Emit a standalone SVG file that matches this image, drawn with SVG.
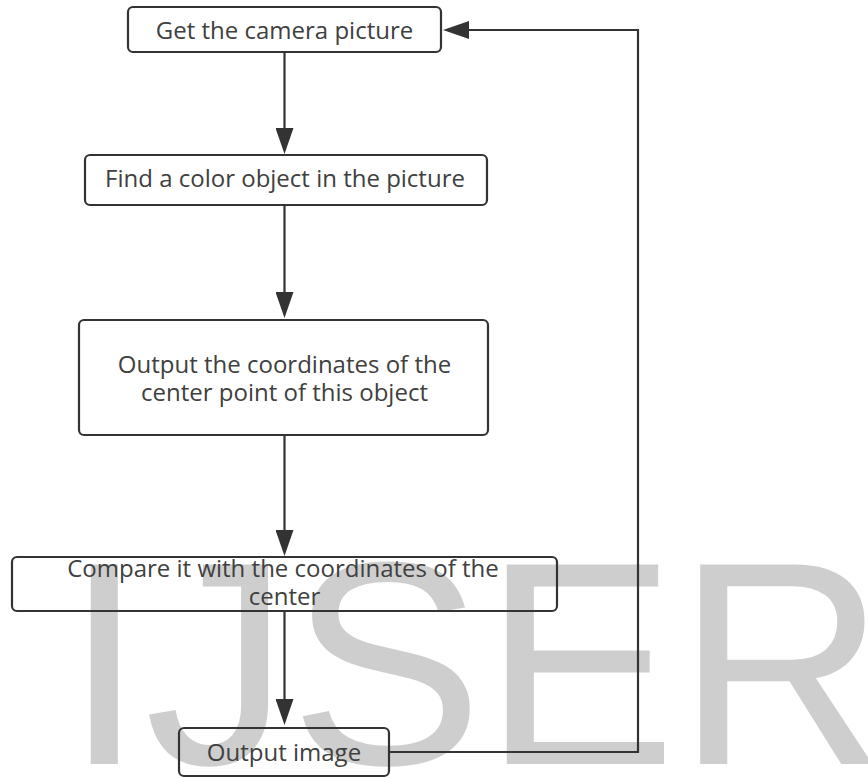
<svg xmlns="http://www.w3.org/2000/svg" width="868" height="778" viewBox="0 0 868 778">
<style>
.box{fill:none;stroke:#333;stroke-width:2.2}
.lbl{font-family:"Open Sans","Noto Sans",sans-serif;font-size:24px;fill:#404040;text-anchor:middle}
.con{fill:none;stroke:#333;stroke-width:2.2}
.wm{font-family:"Liberation Sans",Arial,sans-serif;font-size:290px;fill:#cecece}
</style>
<defs>
<marker id="arr" markerUnits="userSpaceOnUse" markerWidth="26" markerHeight="18" refX="20" refY="9" orient="auto">
<path d="M0,0 L26,9 L0,18 Z" fill="#333"/>
</marker>
</defs>
<rect width="868" height="778" fill="#fff"/>
<text class="wm" x="64" y="764">IJSER</text>
<g id="connectors">
<path class="con" d="M284.5,53 V148" marker-end="url(#arr)"/>
<path class="con" d="M284.5,205 V312" marker-end="url(#arr)"/>
<path class="con" d="M284.5,435 V550" marker-end="url(#arr)"/>
<path class="con" d="M284.5,611 V719" marker-end="url(#arr)"/>
<path class="con" d="M389,752 H638 V30 H449" marker-end="url(#arr)"/>
</g>
<g id="n1">
<rect class="box" x="128" y="7" width="313" height="45" rx="5"/>
<text class="lbl" x="284.5" y="39">Get the camera picture</text>
</g>
<g id="n2">
<rect class="box" x="85" y="155" width="402" height="50" rx="5"/>
<text class="lbl" x="285" y="187">Find a color object in the picture</text>
</g>
<g id="n3">
<rect class="box" x="79" y="320" width="409" height="115" rx="5"/>
<text class="lbl" x="284.5" y="373">Output the coordinates of the</text>
<text class="lbl" x="284.5" y="401">center point of this object</text>
</g>
<g id="n4">
<rect class="box" x="12" y="557" width="545" height="54" rx="5"/>
<text class="lbl" x="283" y="577">Compare it with the coordinates of the</text>
<text class="lbl" x="284.5" y="605">center</text>
</g>
<g id="n5">
<rect class="box" x="179" y="728" width="210" height="48" rx="5"/>
<text class="lbl" x="284" y="761">Output image</text>
</g>
</svg>
